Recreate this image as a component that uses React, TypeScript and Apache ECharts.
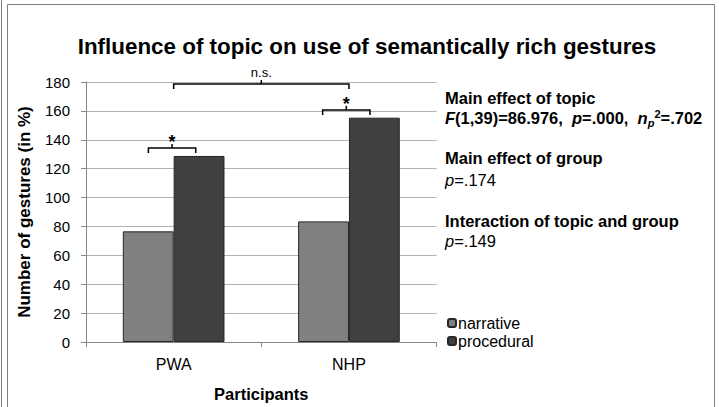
import React, { useEffect, useRef } from "react";
import * as echarts from "echarts";

const categories = ["PWA", "NHP"];
const seriesNames = ["narrative", "procedural"];
const narrative = [76.6, 83.5];
const procedural = [128.8, 155.3];
const yMin = 0;
const yMax = 180;
const yInterval = 20;

// significance brackets: start category, end category, level (value), label
const bracketStartCat = [0, 1, 0];
const bracketEndCat = [0, 1, 1];
const bracketLevel = [134.3, 160.7, 178.6];
const bracketLabels = ["*", "*", "n.s."];

const titleText = "Influence of topic on use of semantically rich gestures";
const yName = "Number of gestures (in %)";
const xName = "Participants";

const statHeadings = ["Main effect of topic", "Main effect of group", "Interaction of topic and group"];
const statDetails = [
  "{bi|F}{b|(1,39)=86.976,  }{bi|p}{b|=.000,  }{bi|n}{sub|p}{sup|2}{b|=.702}",
  "{ri|p}{r|=.174}",
  "{ri|p}{r|=.149}",
];

const FONT = "'Liberation Sans', Arial, sans-serif";

export default function App() {
  const ref = useRef<HTMLDivElement>(null);
  useEffect(() => {
    if (!ref.current) return;
    const chart = echarts.init(ref.current, null, { renderer: "svg" });
    const startOff = [-0.144, -0.15, 0];
    const endOff = [0.126, 0.12, 0];
    const bracketData = bracketLevel.map((lv, i) => [bracketStartCat[i], bracketEndCat[i], lv]);

    const base = { fontFamily: FONT, fontSize: 16.5, lineHeight: 20, color: "#000" };
    const rich = {
      b: { ...base, fontWeight: "bold", fontStyle: "normal" },
      bi: { ...base, fontWeight: "bold", fontStyle: "italic" },
      sub: { ...base, fontSize: 11, lineHeight: 9, fontWeight: "bold", fontStyle: "italic", verticalAlign: "bottom" },
      sup: { ...base, fontSize: 11, lineHeight: 8, fontWeight: "bold", fontStyle: "normal", verticalAlign: "top" },
      r: { ...base, fontWeight: "normal", fontStyle: "normal" },
      ri: { ...base, fontWeight: "normal", fontStyle: "italic" },
    };
    const headY = [98, 158, 221];
    const detY = [118, 180, 241];
    const graphics: any[] = [
      { type: "rect", shape: { x: 7.5, y: 4.5, width: 707, height: 420 }, style: { fill: "none", stroke: "#7f7f7f", lineWidth: 1 }, silent: true },
      { type: "line", shape: { x1: 1.5, y1: 0, x2: 1.5, y2: 407 }, style: { stroke: "#7f7f7f", lineWidth: 1 }, silent: true },
    ];
    statHeadings.forEach((t, i) => {
      graphics.push({
        type: "text", x: 445, y: headY[i],
        style: { text: t, fontFamily: FONT, fontSize: 16.5, fontWeight: "bold", fill: "#000", verticalAlign: "middle", align: "left" },
      });
      graphics.push({
        type: "text", x: 445, y: detY[i],
        style: { text: statDetails[i], rich, fontFamily: FONT, fontSize: 16.5, fill: "#000", verticalAlign: "middle", align: "left" },
      });
    });

    chart.setOption({
      animation: false,
      backgroundColor: "#fff",
      title: {
        text: titleText, left: 362, top: 30, textAlign: "center",
        textStyle: { fontFamily: FONT, fontSize: 22.4, fontWeight: "bold", color: "#000" },
      },
      grid: { left: 86, right: 282.4, top: 82, bottom: 57, containLabel: false },
      legend: {
        data: seriesNames, orient: "vertical", left: 447, top: 315, padding: 0,
        itemWidth: 8, itemHeight: 8, itemGap: 2,
        textStyle: { fontFamily: FONT, fontSize: 16, color: "#000", padding: [0, 0, 0, -3] },
      },
      xAxis: {
        type: "category", data: categories,
        name: xName, nameLocation: "middle", nameGap: 43,
        nameTextStyle: { fontFamily: FONT, fontSize: 16.5, fontWeight: "bold", color: "#000" },
        axisLine: { lineStyle: { color: "#868686", width: 1 } },
        axisTick: { show: true, length: 5, lineStyle: { color: "#868686" } },
        axisLabel: { fontFamily: FONT, fontSize: 16, color: "#000", margin: 14 },
      },
      yAxis: {
        type: "value", min: yMin, max: yMax, interval: yInterval,
        name: yName, nameLocation: "middle", nameRotate: 90, nameGap: 53,
        nameTextStyle: { fontFamily: FONT, fontSize: 17, fontWeight: "bold", color: "#000" },
        axisLine: { show: true, lineStyle: { color: "#868686", width: 1 } },
        axisTick: { show: true, length: 5, lineStyle: { color: "#868686" } },
        axisLabel: { fontFamily: FONT, fontSize: 15, color: "#000", margin: 16 },
        splitLine: { show: true, lineStyle: { color: "#b3b3b3", width: 1 } },
      },
      series: [
        {
          name: seriesNames[0], type: "bar", data: narrative, barGap: "0%", barCategoryGap: "42%",
          itemStyle: { color: "#808080", borderColor: "#262626", borderWidth: 1 },
        },
        {
          name: seriesNames[1], type: "bar", data: procedural, barGap: "0%", barCategoryGap: "42%",
          itemStyle: { color: "#404040", borderColor: "#262626", borderWidth: 1 },
        },
        {
          type: "custom", name: "brackets", data: bracketData, clip: false, silent: true, z: 5,
          encode: { x: 0, y: 2 },
          renderItem: (params: any, api: any) => {
            const i = params.dataIndex;
            const band = api.size([1, 0])[0];
            const p0 = api.coord([api.value(0), api.value(2)]);
            const p1 = api.coord([api.value(1), api.value(2)]);
            const x0 = p0[0] + startOff[i] * band;
            const x1 = p1[0] + endOff[i] * band;
            const y = p0[1];
            const xm = (x0 + x1) / 2;
            const isStar = bracketLabels[i] === "*";
            return {
              type: "group",
              children: [
                { type: "polyline", shape: { points: [[x0, y + 5], [x0, y], [x1, y], [x1, y + 5]] }, style: { stroke: "#000", fill: null, lineWidth: 1.5 } },
                { type: "line", shape: { x1: xm, y1: y, x2: xm, y2: y - 4 }, style: { stroke: "#000", lineWidth: 1.5 } },
                {
                  type: "text",
                  style: {
                    text: bracketLabels[i], x: xm, y: isStar ? y - 6 : y - 5,
                    align: "center", verticalAlign: isStar ? "middle" : "bottom",
                    fontFamily: FONT, fontSize: isStar ? 18 : 13, fontWeight: isStar ? "bold" : "normal", fill: "#000",
                  },
                },
              ],
            };
          },
        },
      ],
      graphic: graphics,
    });
    return () => chart.dispose();
  }, []);
  return <div ref={ref} style={{ position: "fixed", left: 0, top: 0, width: 719, height: 407 }} />;
}
